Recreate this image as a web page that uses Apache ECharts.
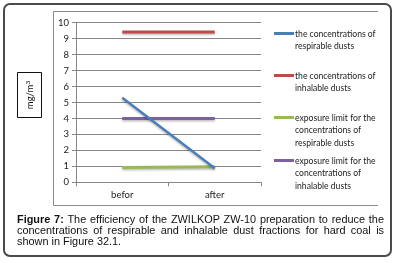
<!DOCTYPE html>
<html>
<head>
<meta charset="utf-8">
<script src="https://cdn.jsdelivr.net/npm/echarts@6/dist/echarts.min.js"></script>
<style>
  html, body { margin: 0; padding: 0; background: #fff; }
  #wrap { position: relative; width: 394px; height: 263px; overflow: hidden; }
  #frame {
    position: absolute; left: 3px; top: 3px; width: 385px; height: 250px;
    border: 2px solid #4a4a4a; border-radius: 7px;
  }
  #chart { position: absolute; left: 0; top: 0; width: 394px; height: 263px; }
  #caption {
    position: absolute; left: 17px; top: 214px; width: 367px;
    font-family: "Liberation Sans", Arial, sans-serif; font-size: 10.9px; line-height: 11px;
    color: #111; text-align: justify; text-align-last: left;
  }
</style>
</head>
<body>
<div id="wrap">
  <div id="frame"></div>
  <div id="chart"></div>
  <div id="caption"><b>Figure 7:</b> The efficiency of the ZWILKOP ZW-10 preparation to reduce the concentrations of respirable and inhalable dust fractions for hard coal is shown in Figure 32.1.</div>
</div>
<script>
const categories = ['befor', 'after'];
const seriesNames = [
  'the concentrations of\nrespirable dusts',
  'the concentrations of\ninhalable dusts',
  'exposure limit for the\nconcentrations of\nrespirable dusts',
  'exposure limit for the\nconcentrations of\ninhalable dusts'
];
const respirable = [5.3, 0.88];
const inhalable = [9.42, 9.42];
const limitRespirable = [0.92, 0.97];
const limitInhalable = [4.0, 4.0];
const colors = ['#4a7ebb', '#be4b48', '#98b954', '#7d60a0'];

const chart = echarts.init(document.getElementById('chart'));

const seriesData = [respirable, inhalable, limitRespirable, limitInhalable];
const series = seriesData.map((d, i) => ({
  name: seriesNames[i],
  type: 'line',
  data: d,
  symbol: 'none',
  z: i === 0 ? 5 : 3,
  lineStyle: {
    color: colors[i],
    width: i === 0 ? 2.5 : 3,
    shadowColor: 'rgba(0,0,0,0.25)',
    shadowBlur: 2,
    shadowOffsetY: 1.5
  },
  emphasis: { disabled: true }
}));

// legend drawn as graphic items: swatch + multi-line text
const legendTops = [28, 70, 112, 155];
const legendItems = [];
seriesNames.forEach((name, i) => {
  legendItems.push({
    type: 'rect',
    shape: { x: 274, y: legendTops[i] + 4, width: 20, height: 3 },
    style: { fill: colors[i] }
  });
  legendItems.push({
    type: 'text',
    x: 295, y: legendTops[i],
    style: {
      text: name,
      font: '8.6px Lato, "Open Sans", sans-serif',
      fill: '#222',
      lineHeight: 12.3
    }
  });
});

chart.setOption({
  animation: false,
  grid: { left: 76, right: 133, top: 22.7, bottom: 80.7 },
  xAxis: {
    type: 'category',
    data: categories,
    axisLine: { lineStyle: { color: '#868686', width: 1 } },
    axisTick: { show: true, length: 4, lineStyle: { color: '#868686' } },
    axisLabel: { color: '#222', fontSize: 9.5, fontFamily: 'Lato, sans-serif', margin: 8 }
  },
  yAxis: {
    type: 'value',
    min: 0, max: 10, interval: 1,
    axisLine: { show: true, lineStyle: { color: '#868686', width: 1 } },
    axisTick: { show: true, length: 4, lineStyle: { color: '#868686' } },
    axisLabel: { color: '#222', fontSize: 9.5, fontFamily: 'Lato, sans-serif', margin: 7 },
    splitLine: { lineStyle: { color: '#868686', width: 1 } }
  },
  series: series,
  graphic: [
    {
      type: 'polyline',
      shape: { points: [[378, 11.5], [53.5, 11.5], [53.5, 205.5], [378, 205.5]] },
      style: { fill: 'none', stroke: '#8a8a8a', lineWidth: 1 },
      z: -1
    },
    {
      type: 'rect',
      shape: { x: 17.5, y: 72.5, width: 24, height: 45 },
      style: { fill: '#fff', stroke: '#111', lineWidth: 1 }
    },
    {
      type: 'text',
      x: 30, y: 95,
      rotation: Math.PI / 2,
      style: {
        text: '{a|mg/m}{s|3}',
        align: 'center', verticalAlign: 'middle',
        rich: {
          a: { font: '9.5px Lato, sans-serif', fill: '#111' },
          s: { font: '6.5px Lato, sans-serif', fill: '#111', verticalAlign: 'top', padding: [0, 0, 5, 0] }
        }
      }
    },
    ...legendItems
  ]
});
</script>
</body>
</html>
